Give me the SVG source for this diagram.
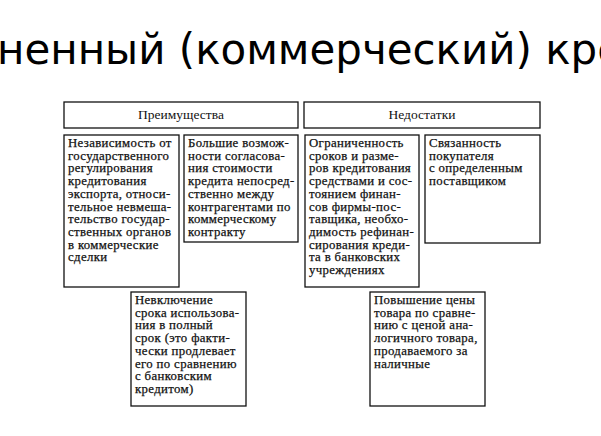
<svg xmlns="http://www.w3.org/2000/svg" width="601" height="436" viewBox="0 0 601 436">
<style>
.b{fill:#fff;stroke:#111;stroke-width:1.3}
.t{font-family:"Liberation Serif",serif;font-size:12.8px;letter-spacing:0.35px;fill:#111;stroke:#111;stroke-width:0.25}
.h{font-family:"Liberation Serif",serif;font-size:13.5px;fill:#111;text-anchor:middle}
</style>
<rect width="601" height="436" fill="#fff"/>
<text x="-3" y="64" font-family="DejaVu Sans,sans-serif" font-size="42" fill="#000" textLength="626" lengthAdjust="spacingAndGlyphs">ненный (коммерческий) кре</text>
<g id="h1"><rect class="b" x="64" y="102" width="234" height="26"/><text class="h" x="181" y="119">Преимущества</text></g>
<g id="h2"><rect class="b" x="304" y="102" width="236" height="26"/><text class="h" x="422" y="119">Недостатки</text></g>
<g id="n1"><rect class="b" x="64" y="135" width="115" height="152"/>
<text class="t" x="68" y="147"><tspan x="68">Независимость от</tspan><tspan x="68" dy="12.7">государственного</tspan><tspan x="68" dy="12.7">регулирования</tspan><tspan x="68" dy="12.7">кредитования</tspan><tspan x="68" dy="12.7">экспорта, относи-</tspan><tspan x="68" dy="12.7">тельное невмеша-</tspan><tspan x="68" dy="12.7">тельство государ-</tspan><tspan x="68" dy="12.7">ственных органов</tspan><tspan x="68" dy="12.7">в коммерческие</tspan><tspan x="68" dy="12.7">сделки</tspan></text></g>
<g id="n2"><rect class="b" x="184" y="135" width="114" height="107"/>
<text class="t" x="188" y="147"><tspan x="188">Большие возмож-</tspan><tspan x="188" dy="12.7">ности согласова-</tspan><tspan x="188" dy="12.7">ния стоимости</tspan><tspan x="188" dy="12.7">кредита непосред-</tspan><tspan x="188" dy="12.7">ственно между</tspan><tspan x="188" dy="12.7">контрагентами по</tspan><tspan x="188" dy="12.7">коммерческому</tspan><tspan x="188" dy="12.7">контракту</tspan></text></g>
<g id="n3"><rect class="b" x="305" y="135" width="114" height="152"/>
<text class="t" x="309" y="147"><tspan x="309">Ограниченность</tspan><tspan x="309" dy="12.7">сроков и разме-</tspan><tspan x="309" dy="12.7">ров кредитования</tspan><tspan x="309" dy="12.7">средствами и сос-</tspan><tspan x="309" dy="12.7">тоянием финан-</tspan><tspan x="309" dy="12.7">сов фирмы-пос-</tspan><tspan x="309" dy="12.7">тавщика, необхо-</tspan><tspan x="309" dy="12.7">димость рефинан-</tspan><tspan x="309" dy="12.7">сирования креди-</tspan><tspan x="309" dy="12.7">та в банковских</tspan><tspan x="309" dy="12.7">учреждениях</tspan></text></g>
<g id="n4"><rect class="b" x="425" y="135" width="115" height="108"/>
<text class="t" x="429" y="147"><tspan x="429">Связанность</tspan><tspan x="429" dy="12.7">покупателя</tspan><tspan x="429" dy="12.7">с определенным</tspan><tspan x="429" dy="12.7">поставщиком</tspan></text></g>
<g id="n5"><rect class="b" x="131" y="292" width="115" height="114"/>
<text class="t" x="135" y="304"><tspan x="135">Невключение</tspan><tspan x="135" dy="12.7">срока использова-</tspan><tspan x="135" dy="12.7">ния в полный</tspan><tspan x="135" dy="12.7">срок (это факти-</tspan><tspan x="135" dy="12.7">чески продлевает</tspan><tspan x="135" dy="12.7">его по сравнению</tspan><tspan x="135" dy="12.7">с банковским</tspan><tspan x="135" dy="12.7">кредитом)</tspan></text></g>
<g id="n6"><rect class="b" x="370" y="292" width="115" height="114"/>
<text class="t" x="374" y="304"><tspan x="374">Повышение цены</tspan><tspan x="374" dy="12.7">товара по сравне-</tspan><tspan x="374" dy="12.7">нию с ценой ана-</tspan><tspan x="374" dy="12.7">логичного товара,</tspan><tspan x="374" dy="12.7">продаваемого за</tspan><tspan x="374" dy="12.7">наличные</tspan></text></g>
<g id="connectors"/>
</svg>
